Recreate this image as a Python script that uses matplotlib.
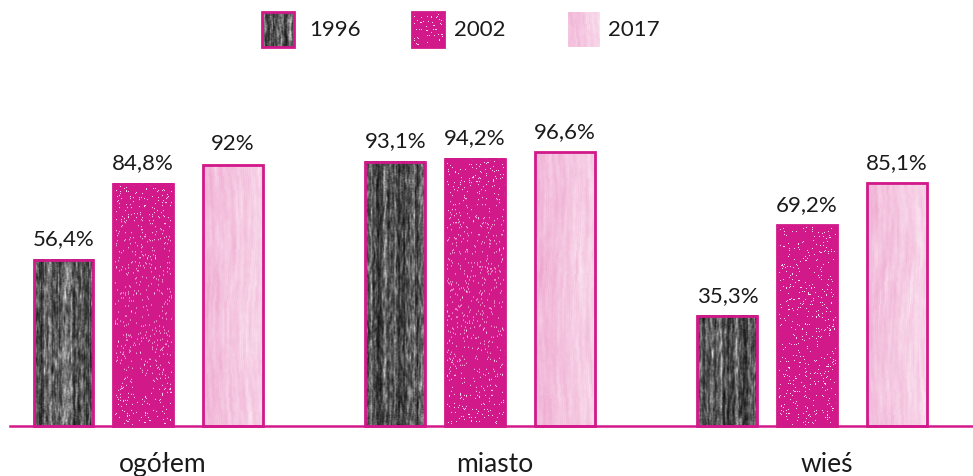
import numpy as np
import matplotlib.pyplot as plt

plt.rcParams['font.family'] = ['Lato', 'DejaVu Sans']

###DATA
categories = ['ogółem', 'miasto', 'wieś']
years = ['1996', '2002', '2017']
v1996 = [56.4, 93.1, 35.3]
v2002 = [84.8, 94.2, 69.2]
v2017 = [92.0, 96.6, 85.1]
values = [v1996, v2002, v2017]

MAG = '#D2198A'
BASE = -5.9          # bars start a little below 0, where the axis line sits
PX_PER_UNIT = 2.67   # vertical pixels per percent (used only for texture resolution)
rng = np.random.default_rng(7)

#---------------------------------------------------------------------------------------------------
###Texture helpers
def smooth(a, ky, kx):
    if ky > 1:
        a = np.apply_along_axis(lambda c: np.convolve(c, np.ones(ky) / ky, mode='same'), 0, a)
    if kx > 1:
        a = np.apply_along_axis(lambda r: np.convolve(r, np.ones(kx) / kx, mode='same'), 1, a)
    return a

def norm(a):
    return (a - a.min()) / (a.max() - a.min() + 1e-9)

def tex_1996(h, w):
    n = norm(smooth(rng.random((h + 20, w + 6)), 8, 2))[10:-10, 3:-3]
    cols = norm(smooth(rng.random((1, w + 6)), 1, 3))[:, 3:-3]
    n = np.clip(0.75 * n + 0.35 * cols - 0.05, 0, 1)
    g = 0.04 + 0.85 * n ** 2.0
    return np.dstack([g, g, g])

def tex_2002(h, w):
    col = np.array([0.82, 0.10, 0.54])
    img = np.ones((h, w, 3)) * col
    mask = rng.random((h, w)) < 0.045
    img[mask] = (1.0, 0.85, 0.94)
    return img

def tex_2017(h, w):
    n = norm(smooth(rng.random((h + 60, w + 8)), 40, 3))[30:-30, 4:-4]
    for r in range(h):
        n[r] = np.roll(n[r], int(3 * np.sin(r / 35.0)))
    grad = np.linspace(0.0, 0.25, w)[None, :]
    t = np.clip(0.02 + 0.65 * n ** 1.5 + grad, 0, 1)
    pink = np.array([0.90, 0.50, 0.72])
    white = np.array([1.0, 0.97, 0.99])
    return t[..., None] * white + (1 - t[..., None]) * pink

textures = [tex_1996, tex_2002, tex_2017]

#---------------------------------------------------------------------------------------------------
fig = plt.figure(figsize=(9.73, 4.77), dpi=100)
ax = fig.add_axes([0, 0, 1, 1])
ax.set_xlim(-0.431, 2.5)
ax.set_ylim(-24.6, 154.0)
ax.axis('off')

x = np.arange(len(categories))
offsets = [-0.24, 0.0, 0.27]
width = 0.18

for k, (vals, tex) in enumerate(zip(values, textures)):
    bars = ax.bar(x + offsets[k], [v - BASE for v in vals], width=width, bottom=BASE,
                  facecolor='none', edgecolor=MAG, linewidth=2, zorder=3)
    for rect, v in zip(bars, vals):
        x0, w = rect.get_x(), rect.get_width()
        hpx = int(round((v - BASE) * PX_PER_UNIT))
        ax.imshow(tex(hpx, 60), extent=(x0, x0 + w, BASE, v), aspect='auto',
                  interpolation='bilinear', zorder=2)
        lab = f'{v:g}'.replace('.', ',') + '%'
        ax.annotate(lab, (x0 + w / 2, v), xytext=(0, 11), textcoords='offset points',
                    ha='center', va='baseline', fontsize=16, color='#1a1a1a')

ax.axhline(BASE, xmin=10 / 973, xmax=1, color=MAG, linewidth=1.8, zorder=4)

for xi, cat in zip(x, categories):
    ax.text(xi + 0.06, -22.7, cat, ha='center', va='baseline', fontsize=19, color='#1a1a1a')

###Legend drawn in pixel coordinates
lax = fig.add_axes([0, 0, 1, 1])
lax.set_xlim(0, 973)
lax.set_ylim(477, 0)
lax.axis('off')
sw_x = [262, 412, 568]
tx_x = [309, 454, 608]
for k in range(3):
    img = textures[k](35, 32)
    lax.imshow(img, extent=(sw_x[k], sw_x[k] + 32, 48, 13), aspect='auto', interpolation='bilinear')
    if k < 2:
        lax.add_patch(plt.Rectangle((sw_x[k], 13), 32, 35, facecolor='none', edgecolor=MAG, linewidth=2))
    lax.text(tx_x[k], 30, years[k], ha='left', va='center', fontsize=16, color='#1a1a1a')

fig.savefig('out.png', dpi=100)
